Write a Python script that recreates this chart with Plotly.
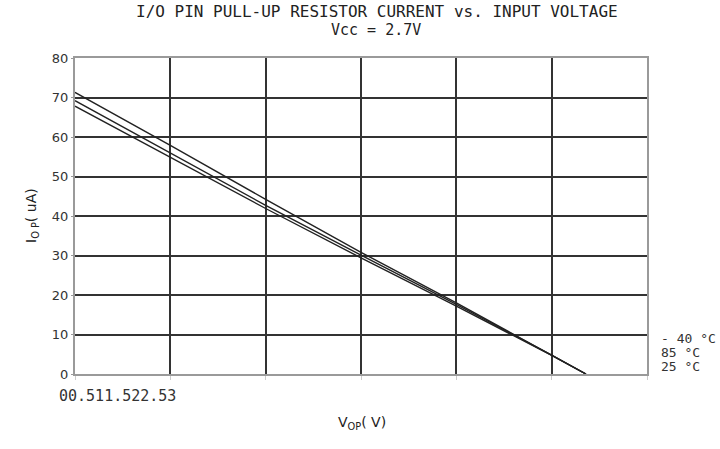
import plotly.graph_objects as go

# Data
x_v = [0, 0.5, 1.0, 1.5, 2.0, 2.5, 2.68]
i_m40 = [71.3, 57.9, 44.2, 30.8, 18.0, 4.8, 0]
i_85 = [69.2, 56.0, 42.7, 30.1, 17.6, 4.8, 0]
i_25 = [67.8, 54.8, 41.9, 29.4, 17.2, 4.7, 0]
series_names = ["-40 °C", "85 °C", "25 °C"]
x_ticks = [0, 0.5, 1, 1.5, 2, 2.5, 3]
x_ticklabels = ["0", "0.5", "1", "1.5", "2", "2.5", "3"]
y_ticks = [0, 10, 20, 30, 40, 50, 60, 70, 80]

MONO = "DejaVu Sans Mono, Liberation Mono, monospace"
SANS = "DejaVu Sans, sans-serif"

fig = go.Figure()
for name, ys in zip(series_names, [i_m40, i_85, i_25]):
    fig.add_trace(go.Scatter(x=x_v, y=ys, mode="lines", name=name,
                             line=dict(color="#222222", width=1.4),
                             showlegend=False, hoverinfo="skip"))

fig.update_layout(
    width=720, height=449,
    margin=dict(l=75, r=73, t=58, b=75),
    paper_bgcolor="white", plot_bgcolor="white",
    font=dict(family=SANS, size=12, color="#222"),
    showlegend=False,
)
fig.update_xaxes(range=[0, 3], tickvals=x_ticks, showticklabels=False,
                 automargin=False,
                 showgrid=True, gridcolor="#333333", gridwidth=2,
                 showline=True, linecolor="#9a9a9a", linewidth=2, mirror=True,
                 ticks="outside", ticklen=4, tickcolor="#cccccc", zeroline=False)
fig.update_yaxes(range=[0, 80], tickvals=y_ticks,
                 ticktext=[str(v) for v in y_ticks], automargin=False,
                 tickfont=dict(size=13, family=SANS, color="#333"),
                 showgrid=True, gridcolor="#333333", gridwidth=2,
                 showline=True, linecolor="#9a9a9a", linewidth=2, mirror=True,
                 ticks="outside", ticklen=2, tickcolor="#9a9a9a", zeroline=False)

ann = []
ann.append(dict(text="I/O PIN PULL-UP RESISTOR CURRENT vs. INPUT VOLTAGE",
                x=377, y=12, font=dict(size=16, family=MONO, color="#222")))
ann.append(dict(text="Vcc = 2.7V", x=376, y=30,
                font=dict(size=15, family=MONO, color="#222")))
ann.append(dict(text="".join(x_ticklabels), x=117, y=396,
                font=dict(size=15, family=MONO, color="#333")))
ann.append(dict(text="V<sub>OP</sub>( V)", x=362, y=423,
                font=dict(size=14, family=SANS, color="#222")))
ann.append(dict(text="I<sub>O P</sub>( uA)", x=32, y=216, textangle=-90,
                font=dict(size=14, family=SANS, color="#222")))
for k, nm in enumerate(series_names):
    ann.append(dict(text=nm.replace("-", "- "),
                    x=659, y=338 + 14 * k, xanchor="left",
                    font=dict(size=13, family=MONO, color="#333")))

# convert pixel coords (from top-left) to paper coords
pw, ph = 720 - 75 - 73, 449 - 58 - 75
for a in ann:
    a["x"] = (a["x"] - 75) / pw
    a["y"] = ((449 - a["y"]) - 75) / ph
    a["xref"] = "paper"
    a["yref"] = "paper"
    a["showarrow"] = False
    a.setdefault("xanchor", "center")
    a["yanchor"] = "middle"
fig.update_layout(annotations=ann)

fig.write_html("out.html", config={"displayModeBar": False, "staticPlot": True},
               post_script="document.body.style.margin='0';document.body.style.overflow='hidden';")
